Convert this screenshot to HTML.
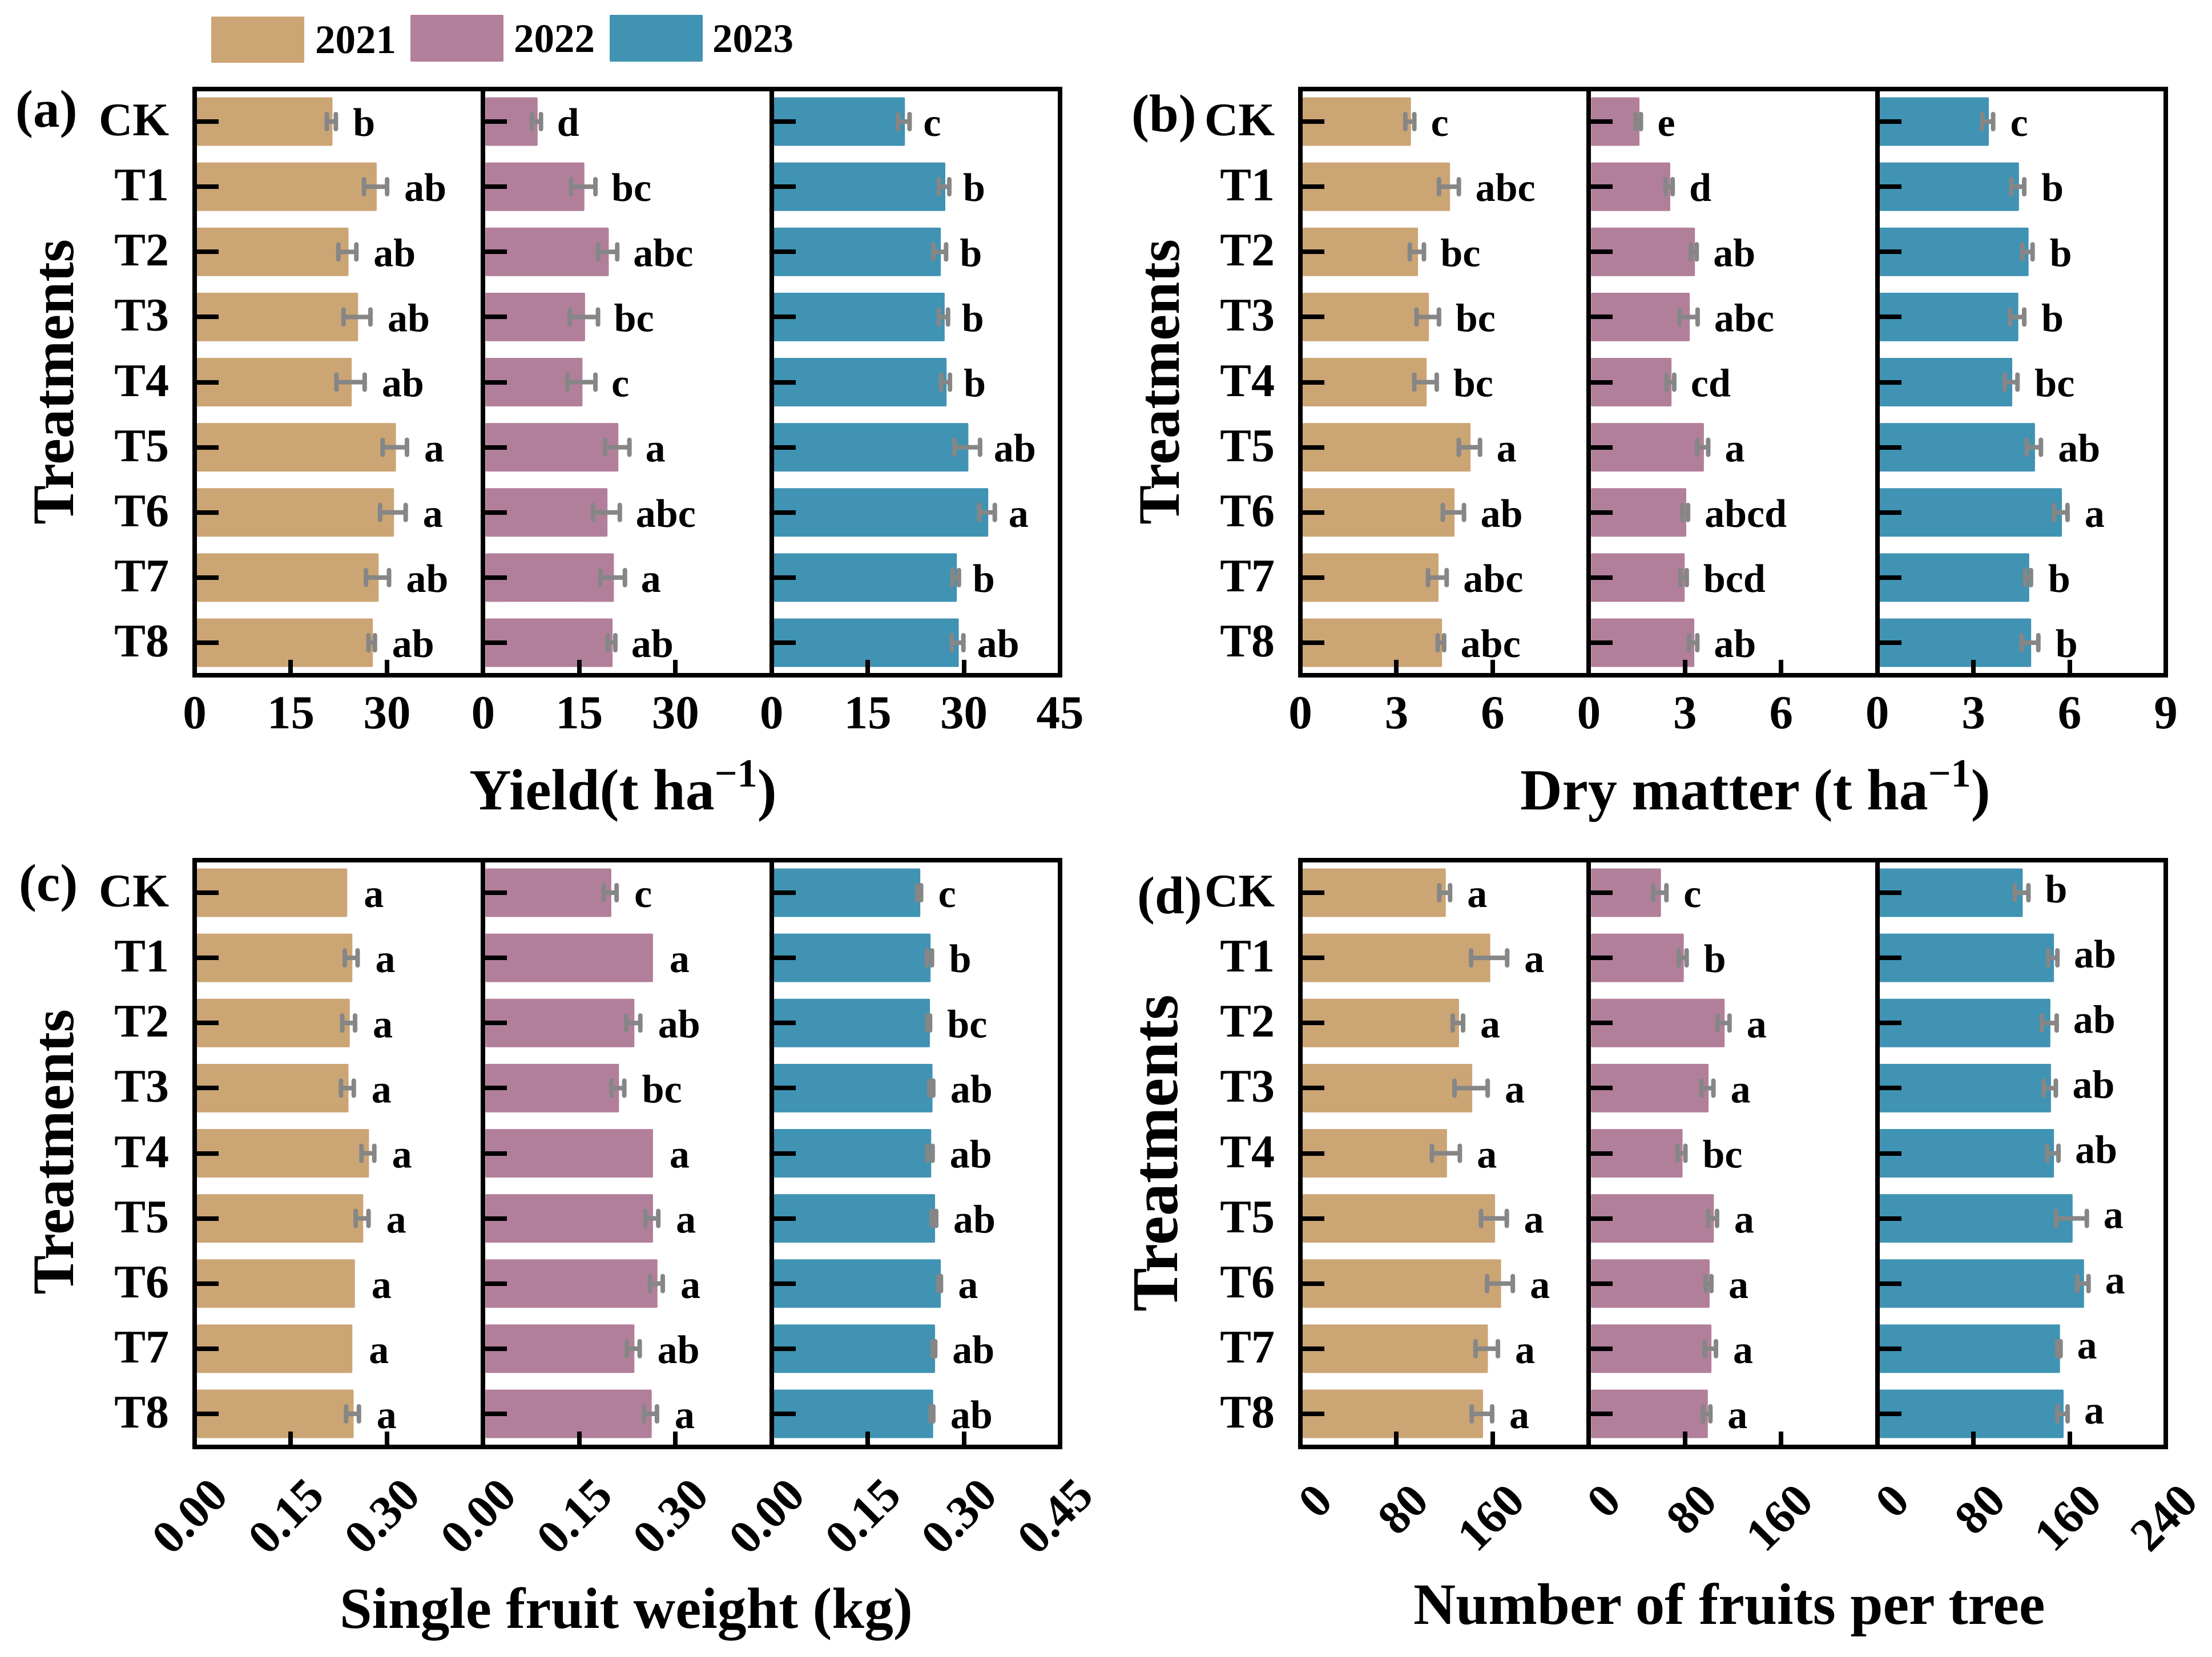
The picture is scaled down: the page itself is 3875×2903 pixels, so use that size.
<!DOCTYPE html>
<html lang="en">
<head>
<meta charset="utf-8">
<title>Yield, dry matter, fruit weight and fruit number by treatment</title>
<style>
  html, body { margin: 0; padding: 0; background: #fff; }
  svg { display: block; }
  text { font-family: "Liberation Serif", "Times New Roman", serif; font-weight: bold; fill: #000; text-rendering: geometricPrecision; }
</style>
</head>
<body>
<svg id="chart" xmlns="http://www.w3.org/2000/svg" width="3875" height="2903" viewBox="0 0 3875 2903">
  <rect x="0" y="0" width="3875" height="2903" fill="#ffffff"/>

  <g>
    <rect x="370" y="29" width="163" height="81" rx="2" fill="#CCA575"/>
    <text x="552" y="93" font-size="71">2021</text>
    <rect x="719" y="26" width="163" height="82" rx="2" fill="#B27F9B"/>
    <text x="900" y="91" font-size="71">2022</text>
    <rect x="1068" y="26" width="163" height="82" rx="2" fill="#4093B3"/>
    <text x="1248" y="91" font-size="71">2023</text>
  </g>

  <text x="27" y="222" font-size="93">(a)</text>
  <text x="1982" y="230" font-size="93">(b)</text>
  <text x="33" y="1578" font-size="93">(c)</text>
  <text x="1992" y="1600" font-size="93">(d)</text>

  <text transform="translate(128 669) rotate(-90)" text-anchor="middle" font-size="103">Treatments</text>
  <text transform="translate(2065 669) rotate(-90)" text-anchor="middle" font-size="103">Treatments</text>
  <text transform="translate(128 2018) rotate(-90)" text-anchor="middle" font-size="103">Treatments</text>
  <text transform="translate(2062 2020) rotate(-90)" text-anchor="middle" font-size="114.5">Treatments</text>

  <text x="822" y="1418" font-size="102">Yield(t ha<tspan dy="-40" font-size="70">−1</tspan><tspan dy="40">)</tspan></text>
  <text x="2663" y="1418" font-size="102">Dry matter (t ha<tspan dy="-40" font-size="70">−1</tspan><tspan dy="40">)</tspan></text>
  <text x="595" y="2852" font-size="101.8">Single fruit weight (kg)</text>
  <text x="2476" y="2845" font-size="102.7">Number of fruits per tree</text>

  <g id="plots"></g>
</svg>

<script>
const categories = ["CK", "T1", "T2", "T3", "T4", "T5", "T6", "T7", "T8"];
const years = ["2021", "2022", "2023"];
const yearColors = ["#CCA575", "#B27F9B", "#4093B3"];

/* (a) Yield */
const yieldTicks = [0, 15, 30, 45];
const yieldTickLabels = ["0", "15", "30", "45"];
const yield2021 = [21.5, 28.4, 24.0, 25.5, 24.5, 31.4, 31.1, 28.7, 27.8];
const yield2022 = [8.5, 15.8, 19.6, 15.9, 15.5, 21.1, 19.4, 20.4, 20.2];
const yield2023 = [20.8, 27.1, 26.4, 27.0, 27.3, 30.7, 33.8, 28.9, 29.2];
const yieldErr2021 = [0.7, 1.8, 1.4, 2.1, 2.2, 1.9, 2.0, 1.8, 0.5];
const yieldErr2022 = [0.7, 1.9, 1.5, 2.2, 2.2, 1.9, 2.1, 1.9, 0.6];
const yieldErr2023 = [0.9, 0.8, 1.0, 0.7, 0.7, 2.0, 1.2, 0.5, 0.9];
const yieldSig2021 = ["b", "ab", "ab", "ab", "ab", "a", "a", "ab", "ab"];
const yieldSig2022 = ["d", "bc", "abc", "bc", "c", "a", "abc", "a", "ab"];
const yieldSig2023 = ["c", "b", "b", "b", "b", "ab", "a", "b", "ab"];

/* (b) Dry matter */
const dryTicks = [0, 3, 6, 9];
const dryTickLabels = ["0", "3", "6", "9"];
const dry2021 = [3.45, 4.67, 3.67, 4.01, 3.94, 5.31, 4.81, 4.31, 4.42];
const dry2022 = [1.58, 2.54, 3.31, 3.15, 2.58, 3.59, 3.04, 2.99, 3.29];
const dry2023 = [3.48, 4.42, 4.72, 4.40, 4.21, 4.92, 5.76, 4.74, 4.80];
const dryErr2021 = [0.14, 0.31, 0.22, 0.35, 0.35, 0.33, 0.33, 0.29, 0.10];
const dryErr2022 = [0.08, 0.11, 0.09, 0.28, 0.12, 0.17, 0.09, 0.10, 0.13];
const dryErr2023 = [0.17, 0.20, 0.16, 0.22, 0.20, 0.22, 0.21, 0.09, 0.26];
const drySig2021 = ["c", "abc", "bc", "bc", "bc", "a", "ab", "abc", "abc"];
const drySig2022 = ["e", "d", "ab", "abc", "cd", "a", "abcd", "bcd", "ab"];
const drySig2023 = ["c", "b", "b", "b", "bc", "ab", "a", "b", "b"];

/* (c) Single fruit weight */
const weightTicks = [0, 0.15, 0.30, 0.45];
const weightTickLabels = ["0.00", "0.15", "0.30", "0.45"];
const weight2021 = [0.238, 0.246, 0.242, 0.240, 0.272, 0.263, 0.250, 0.246, 0.248];
const weight2022 = [0.200, 0.265, 0.236, 0.212, 0.265, 0.265, 0.272, 0.236, 0.263];
const weight2023 = [0.232, 0.248, 0.247, 0.251, 0.249, 0.255, 0.264, 0.255, 0.252];
const weightErr2021 = [0, 0.010, 0.010, 0.010, 0.010, 0.010, 0, 0, 0.010];
const weightErr2022 = [0.010, 0, 0.011, 0.010, 0, 0.010, 0.010, 0.010, 0.010];
const weightErr2023 = [0.003, 0.004, 0.002, 0.003, 0.004, 0.0035, 0.002, 0.002, 0.002];
const weightSig2021 = ["a", "a", "a", "a", "a", "a", "a", "a", "a"];
const weightSig2022 = ["c", "a", "ab", "bc", "a", "a", "a", "ab", "a"];
const weightSig2023 = ["c", "b", "bc", "ab", "ab", "ab", "a", "ab", "ab"];

/* (d) Number of fruits per tree */
const fruitTicks = [0, 80, 160, 240];
const fruitTickLabels = ["0", "80", "160", "240"];
const fruit2021 = [121, 158, 132, 143, 122, 162, 167, 156, 152];
const fruit2022 = [60, 79, 113, 99.6, 78, 104, 100.5, 102, 99];
const fruit2023 = [121, 147, 144, 144.5, 147, 162.5, 172, 152, 155];
const fruitErr2021 = [4.5, 15, 4.3, 13.8, 11.6, 10.7, 10.7, 9.3, 8.5];
const fruitErr2022 = [5.5, 3.3, 5, 5, 3.3, 3.6, 2.4, 4.7, 3.1];
const fruitErr2023 = [5.7, 3.8, 6.2, 5, 4.7, 12.8, 4.7, 1.4, 4.3];
const fruitSig2021 = ["a", "a", "a", "a", "a", "a", "a", "a", "a"];
const fruitSig2022 = ["c", "b", "a", "a", "bc", "a", "a", "a", "a"];
const fruitSig2023 = ["b", "ab", "ab", "ab", "ab", "a", "a", "a", "a"];

const panels = [
  { id: "yield", left: 341, right: 1857, top: 156, bottom: 1183, firstY: 213,
    ticks: yieldTicks, tickLabels: yieldTickLabels,
    values: [yield2021, yield2022, yield2023], errors: [yieldErr2021, yieldErr2022, yieldErr2023],
    sig: [yieldSig2021, yieldSig2022, yieldSig2023],
    gaps: [28, 26, 22], sigDy: [25, 25, 25], rotated: false, labelY: 1276 },
  { id: "dry-matter", left: 2278, right: 3794, top: 156, bottom: 1183, firstY: 213,
    ticks: dryTicks, tickLabels: dryTickLabels,
    values: [dry2021, dry2022, dry2023], errors: [dryErr2021, dryErr2022, dryErr2023],
    sig: [drySig2021, drySig2022, drySig2023],
    gaps: [27, 27, 28], sigDy: [25, 25, 25], rotated: false, labelY: 1276 },
  { id: "fruit-weight", left: 341, right: 1857, top: 1507, bottom: 2535, firstY: 1564,
    ticks: weightTicks, tickLabels: weightTickLabels,
    values: [weight2021, weight2022, weight2023], errors: [weightErr2021, weightErr2022, weightErr2023],
    sig: [weightSig2021, weightSig2022, weightSig2023],
    gaps: [29, 29, 28], sigDy: [25, 25, 25], rotated: true, labelDx: 62, labelY: 2624 },
  { id: "fruit-number", left: 2278, right: 3794, top: 1507, bottom: 2535, firstY: 1564,
    ticks: fruitTicks, tickLabels: fruitTickLabels,
    values: [fruit2021, fruit2022, fruit2023], errors: [fruitErr2021, fruitErr2022, fruitErr2023],
    sig: [fruitSig2021, fruitSig2022, fruitSig2023],
    gaps: [28, 28, 27], sigDy: [25, 25, 17], rotated: true, labelDx: 60, labelY: 2634 }
];

const SVG_NS = "http://www.w3.org/2000/svg";
const plots = document.getElementById("plots");
const ROW_STEP = 114.125;
const BAR_HEIGHT = 85;
const FRAME_WIDTH = 8;
const ERR_COLOR = "#868686";

function make(tag, attrs, parent, text) {
  const node = document.createElementNS(SVG_NS, tag);
  for (const key in attrs) node.setAttribute(key, attrs[key]);
  if (text !== undefined) node.textContent = text;
  parent.appendChild(node);
  return node;
}

function drawPanel(panel) {
  const group = make("g", {}, plots);
  
  

  const domainMax = panel.ticks[panel.ticks.length - 1];
  const subWidth = (panel.right - panel.left) / 3;
  const colOrigin = (col) => panel.left + col * subWidth;
  const xScale = (col, value) => colOrigin(col) + (value / domainMax) * subWidth;
  const yScale = (row) => panel.firstY + row * ROW_STEP;

  years.forEach(function (year, col) {
    const barGroup = make("g", {}, group);
    
    

    categories.forEach(function (category, row) {
      const value = panel.values[col][row];
      const err = panel.errors[col][row];
      const y = yScale(row);
      const x0 = colOrigin(col) + FRAME_WIDTH / 2;
      const x1 = xScale(col, value);

      const bar = make("rect", { x: x0, y: y - BAR_HEIGHT / 2, width: Math.max(0, x1 - x0), height: BAR_HEIGHT, rx: 2, fill: yearColors[col] }, barGroup);
      
      

      const center = x1 - 2;
      const half = xScale(col, err) - colOrigin(col);
      if (err > 0) {
        const errGroup = make("g", { stroke: ERR_COLOR, "stroke-width": 8, "stroke-linecap": "round", fill: "none" }, barGroup);
        
        
        make("line", { x1: center - half, x2: center + half, y1: y, y2: y, "stroke-linecap": "butt" }, errGroup);
        make("line", { x1: center - half, x2: center - half, y1: y - 13, y2: y + 13 }, errGroup);
        make("line", { x1: center + half, x2: center + half, y1: y - 13, y2: y + 13 }, errGroup);
      }

      const sigLabel = make("text", { x: center + half + 4 + panel.gaps[col] - 2, y: y + panel.sigDy[col], "font-size": 70 }, barGroup, panel.sig[col][row]);
      
      
    });
  });

  /* y ticks and category labels */
  categories.forEach(function (category, row) {
    const y = Math.round(yScale(row));
    const label = make("text", { x: panel.left - 45, y: y + 24, "font-size": 82, "text-anchor": "end" }, group, category);
    
    
    for (let col = 0; col < 3; col++) {
      const mx = Math.round(colOrigin(col));
      const mark = make("line", { x1: mx, x2: mx + 42, y1: y, y2: y, stroke: "#000", "stroke-width": 8 }, group);
      
      
    }
  });

  /* x ticks and labels */
  for (let col = 0; col < 3; col++) {
    panel.ticks.forEach(function (tick, i) {
      const isLast = i === panel.ticks.length - 1;
      const x = xScale(col, tick);
      if (i > 0 && !isLast) {
        const tx = Math.round(x);
        const mark = make("line", { x1: tx, x2: tx, y1: panel.bottom - 27, y2: panel.bottom, stroke: "#000", "stroke-width": 8 }, group);
        
        
      }
      if (isLast && col < 2) return;
      let tickText;
      if (panel.rotated) {
        tickText = make("text", { transform: "translate(" + (x + panel.labelDx) + " " + panel.labelY + ") rotate(-45)", "text-anchor": "end", "font-size": 83 }, group, panel.tickLabels[i]);
      } else {
        tickText = make("text", { x: x, y: panel.labelY, "text-anchor": "middle", "font-size": 83 }, group, panel.tickLabels[i]);
      }
      
      
    });
  }

  /* frame and column dividers */
  const frame = make("rect", { x: panel.left, y: panel.top, width: panel.right - panel.left, height: panel.bottom - panel.top, fill: "none", stroke: "#000", "stroke-width": FRAME_WIDTH }, group);
  
  
  for (let col = 1; col < 3; col++) {
    const dx = Math.round(colOrigin(col));
    const divider = make("line", { x1: dx, x2: dx, y1: panel.top, y2: panel.bottom, stroke: "#000", "stroke-width": FRAME_WIDTH }, group);
    
    
  }
}

panels.forEach(drawPanel);
</script>
</body>
</html>
